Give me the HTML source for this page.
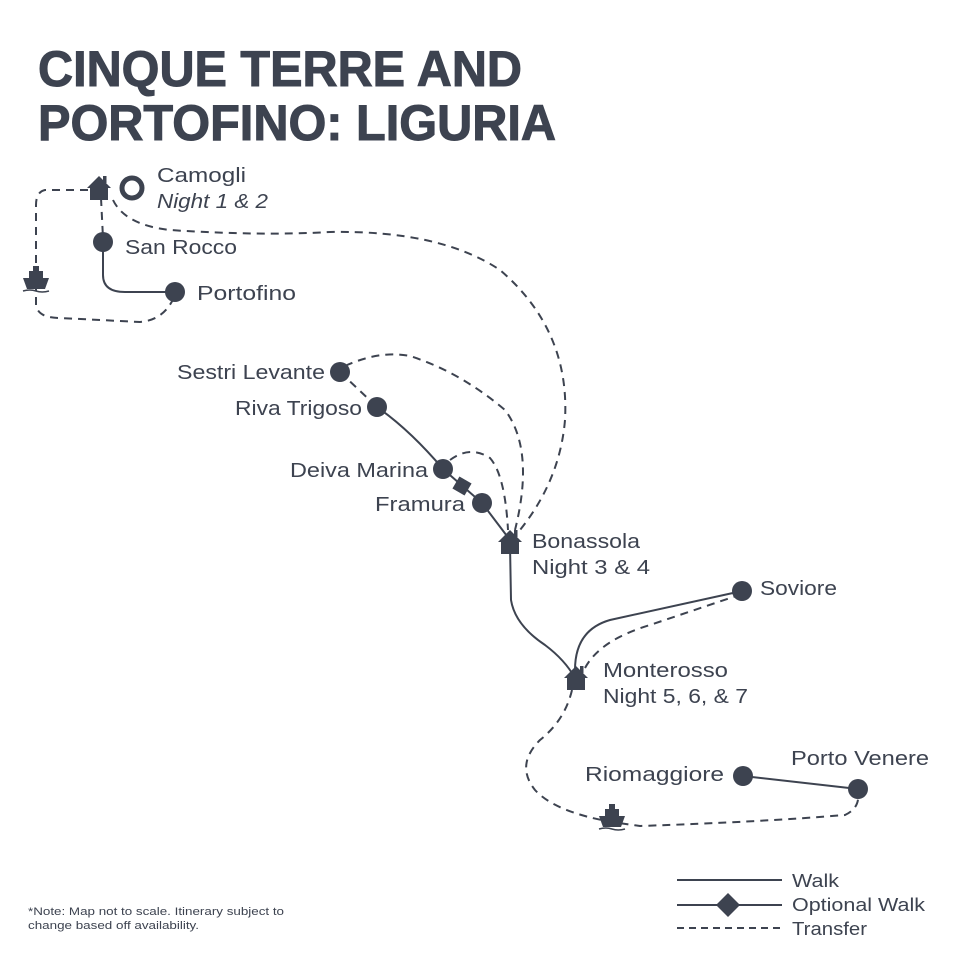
<!DOCTYPE html>
<html><head><meta charset="utf-8"><style>
html,body{margin:0;padding:0;background:#fff}
svg{display:block}
text{font-family:"Liberation Sans",sans-serif;fill:#3d4350}
</style></head><body>
<svg width="960" height="960" viewBox="0 0 960 960" xmlns="http://www.w3.org/2000/svg">
<defs>
<g id="house"><path d="M-12,0 L0,-12 L12,0 L9,0 L9,12 L-9,12 L-9,0 Z" fill="#3d4350"/><rect x="4" y="-12" width="3.5" height="7" fill="#3d4350"/></g>
<g id="boat"><rect x="-3" y="-14" width="6" height="5" fill="#3d4350"/><rect x="-7" y="-9" width="14" height="7" fill="#3d4350"/><path d="M-13,-2 L13,-2 L9,9 L-9,9 Z" fill="#3d4350"/><path d="M-13,11 Q-6,9 0,11 Q6,13 13,11" stroke="#3d4350" stroke-width="1.5" fill="none"/></g>
</defs>
<text x="38" y="86" font-size="50" font-weight="bold" stroke="#3d4350" stroke-width="1" textLength="484" lengthAdjust="spacingAndGlyphs">CINQUE TERRE AND</text>
<text x="38" y="140" font-size="50" font-weight="bold" stroke="#3d4350" stroke-width="1" textLength="518" lengthAdjust="spacingAndGlyphs">PORTOFINO: LIGURIA</text>

<g fill="none" stroke="#3d4350" stroke-width="2">
<path d="M103,242 L103,275 Q103,292 125,292 L175,292"/>
<path d="M377,407 Q410,430 443,469 L482,503 L510,540"/>
<path d="M510,545 L511,600 Q515,625 545,645 Q565,660 575,678"/>
<path d="M575,670 Q575,630 610,620 L742,591"/>
<path d="M743,776 L858,789"/>
<g stroke-dasharray="8,6">
<path d="M88,190 L45,190 Q36,192 36,205 L36,305 Q38,318 60,318 L140,322 Q165,320 175,295"/>
<path d="M101,198 L103,238"/>
<path d="M113,200 Q125,225 170,230 Q260,236 330,232 Q440,230 500,270 Q570,330 565,420 Q560,480 520,530"/>
<path d="M340,372 L377,407"/>
<path d="M345,366 Q380,350 410,356 Q460,372 505,410 Q535,450 515,530"/>
<path d="M450,460 Q470,445 490,458 Q505,475 508,530"/>
<path d="M585,668 Q600,640 650,625 L742,594"/>
<path d="M572,690 Q565,720 540,740 Q515,765 535,790 Q555,812 612,822 L640,826 Q760,822 845,815 Q860,808 858,793"/>
</g>
</g>

<use href="#house" x="99" y="188"/>
<circle cx="132" cy="188" r="10" fill="none" stroke="#3d4350" stroke-width="5"/>
<use href="#boat" x="36" y="280"/>
<use href="#boat" x="612" y="818"/>
<use href="#house" x="510" y="542"/>
<use href="#house" x="576" y="678"/>
<g fill="#3d4350">
<circle cx="103" cy="242" r="10"/>
<circle cx="175" cy="292" r="10"/>
<circle cx="340" cy="372" r="10"/>
<circle cx="377" cy="407" r="10"/>
<circle cx="443" cy="469" r="10"/>
<rect x="455" y="479" width="14" height="14" transform="rotate(30 462 486)"/>
<circle cx="482" cy="503" r="10"/>
<circle cx="742" cy="591" r="10"/>
<circle cx="743" cy="776" r="10"/>
<circle cx="858" cy="789" r="10"/>
</g>

<g font-size="20">
<text x="157" y="182" textLength="89" lengthAdjust="spacingAndGlyphs">Camogli</text>
<text x="157" y="208" font-style="italic" textLength="111" lengthAdjust="spacingAndGlyphs">Night 1 &amp; 2</text>
<text x="125" y="254" textLength="112" lengthAdjust="spacingAndGlyphs">San Rocco</text>
<text x="197" y="300" textLength="99" lengthAdjust="spacingAndGlyphs">Portofino</text>
<text x="177" y="379" textLength="148" lengthAdjust="spacingAndGlyphs">Sestri Levante</text>
<text x="235" y="415" textLength="127" lengthAdjust="spacingAndGlyphs">Riva Trigoso</text>
<text x="290" y="477" textLength="138" lengthAdjust="spacingAndGlyphs">Deiva Marina</text>
<text x="375" y="511" textLength="90" lengthAdjust="spacingAndGlyphs">Framura</text>
<text x="532" y="548" textLength="108" lengthAdjust="spacingAndGlyphs">Bonassola</text>
<text x="532" y="574" textLength="118" lengthAdjust="spacingAndGlyphs">Night 3 &amp; 4</text>
<text x="760" y="595" textLength="77" lengthAdjust="spacingAndGlyphs">Soviore</text>
<text x="603" y="677" textLength="125" lengthAdjust="spacingAndGlyphs">Monterosso</text>
<text x="603" y="703" textLength="145" lengthAdjust="spacingAndGlyphs">Night 5, 6, &amp; 7</text>
<text x="585" y="781" textLength="139" lengthAdjust="spacingAndGlyphs">Riomaggiore</text>
<text x="791" y="765" textLength="138" lengthAdjust="spacingAndGlyphs">Porto Venere</text>
</g>

<g stroke="#3d4350" stroke-width="2">
<line x1="677" y1="880" x2="782" y2="880"/>
<line x1="677" y1="905" x2="782" y2="905"/>
<line x1="677" y1="928" x2="782" y2="928" stroke-dasharray="7,5"/>
</g>
<path d="M728,893 L740,905 L728,917 L716,905 Z" fill="#3d4350"/>
<g font-size="18">
<text x="792" y="887" textLength="47" lengthAdjust="spacingAndGlyphs">Walk</text>
<text x="792" y="911" textLength="133" lengthAdjust="spacingAndGlyphs">Optional Walk</text>
<text x="792" y="935" textLength="75" lengthAdjust="spacingAndGlyphs">Transfer</text>
</g>
<g font-size="11">
<text x="28" y="915" textLength="256" lengthAdjust="spacingAndGlyphs">*Note: Map not to scale. Itinerary subject to</text>
<text x="28" y="929" textLength="171" lengthAdjust="spacingAndGlyphs">change based off availability.</text>
</g>
</svg>
</body></html>
